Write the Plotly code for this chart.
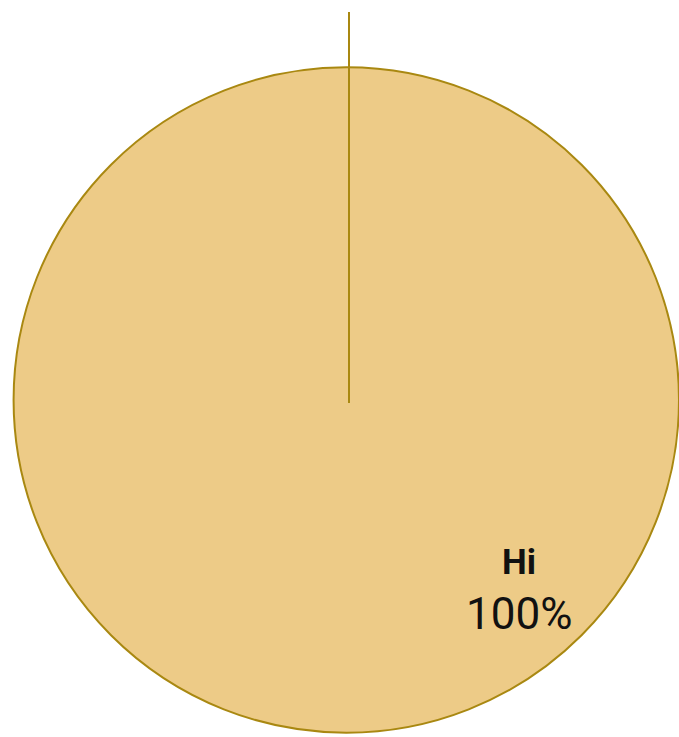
import plotly.graph_objects as go

labels = ["Ні"]
values = [100]
fill_color = "#EDCB87"
line_color = "#A98811"

dom_x = [0.02, 1.0]
dom_y = [0.0055, 0.9091]

fig = go.Figure(go.Pie(
    labels=labels, values=values, sort=False, direction="clockwise", rotation=0,
    marker=dict(colors=[fill_color], line=dict(color=line_color, width=2)),
    textinfo="none", hoverinfo="label+percent", showlegend=False,
    domain=dict(x=dom_x, y=dom_y),
))

W, H = 679, 737
cy = (dom_y[0] + dom_y[1]) / 2
# radial slice boundary at 12 o'clock (start of the slice), extended as leader line
line_x = 349 / W
fig.add_shape(type="line", xref="paper", yref="paper",
              x0=line_x, x1=line_x, y0=1 - 403 / H, y1=1 - 12 / H,
              line=dict(color=line_color, width=2))

pct = [f"{round(100 * v / sum(values))}%" for v in values]
fig.add_annotation(x=519 / W, y=1 - 562 / H, xref="paper", yref="paper",
                   xanchor="center", yanchor="middle",
                   text=f"<b>{labels[0]}</b>", showarrow=False,
                   font=dict(family="Roboto", size=35, color="#111111"))
fig.add_annotation(x=519 / W, y=1 - 614 / H, xref="paper", yref="paper",
                   xanchor="center", yanchor="middle",
                   text=pct[0], showarrow=False,
                   font=dict(family="Roboto", size=44, color="#111111"))

fig.update_layout(width=W, height=H, margin=dict(l=0, r=0, t=0, b=0),
                  paper_bgcolor="white", plot_bgcolor="white")
fig.write_html("out.html", config={"displayModeBar": False},
               post_script="document.body.style.margin='0';document.body.style.overflow='hidden';")
